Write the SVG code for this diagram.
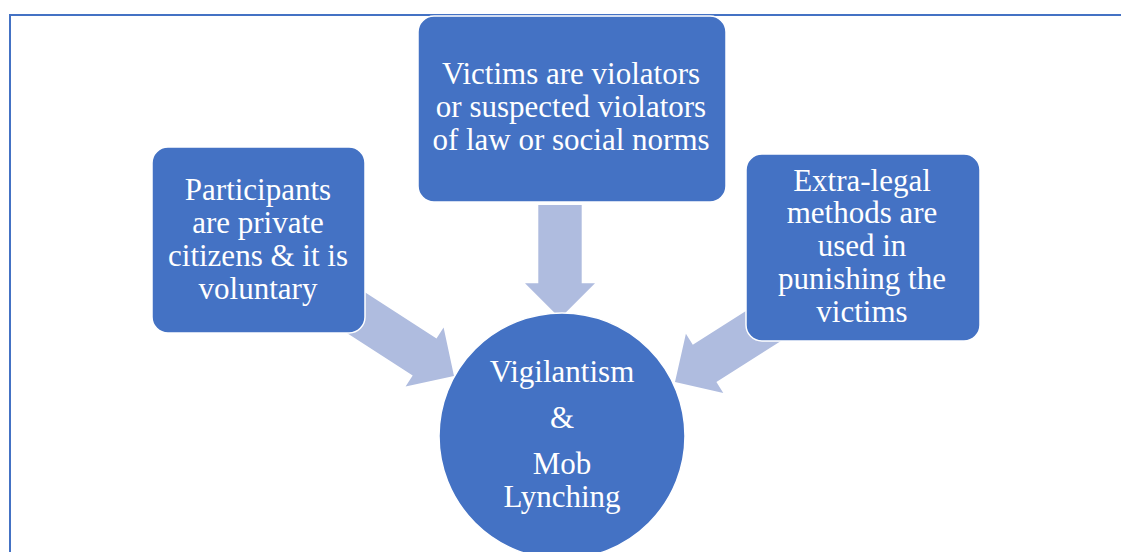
<svg xmlns="http://www.w3.org/2000/svg" width="1121" height="552" viewBox="0 0 1121 552">
  <style>
    .frame { fill: none; stroke: #4472C4; stroke-width: 2; }
    .node { fill: #4472C4; stroke: #FFFFFF; stroke-width: 1.5; }
    .arrow { fill: #AFBCDF; stroke: none; }
    .label { font-family: 'Liberation Serif', Tinos, 'DejaVu Serif', serif; font-size: 31px; fill: #FFFFFF; text-anchor: middle; }
  </style>
  <rect width="1121" height="552" fill="#FFFFFF"/>
  <!-- page frame -->
  <path class="frame" d="M10,552 V15 H1121"/>

  <!-- block arrows pointing into the central circle -->
  <g id="connectors">
    <polygon class="arrow" points="538.3,205 581.7,205 581.7,283.3 595,283.3 560,318.3 525,283.3 538.3,283.3"/>
    <polygon class="arrow" points="318.9,262.5 436.5,338.5 443.6,327.6 454,376 405.6,386.4 412.7,375.5 295,299.5"/>
    <polygon class="arrow" points="811,269.8 692.8,344.7 685.9,333.7 675,382 723.3,392.9 716.4,381.9 834.7,307"/>
  </g>

  <g id="node-participants">
    <rect class="node" x="152" y="147" width="213" height="186" rx="16"/>
    <text class="label" x="258" y="200">Participants</text>
    <text class="label" x="258" y="233">are private</text>
    <text class="label" x="258" y="266">citizens &amp; it is</text>
    <text class="label" x="258" y="299">voluntary</text>
  </g>

  <g id="node-victims">
    <rect class="node" x="418" y="16" width="308" height="186" rx="16"/>
    <text class="label" x="571" y="83.5">Victims are violators</text>
    <text class="label" x="571" y="117">or suspected violators</text>
    <text class="label" x="571" y="150">of law or social norms</text>
  </g>

  <g id="node-methods">
    <rect class="node" x="746" y="154" width="234" height="187" rx="16"/>
    <text class="label" x="862" y="190.5">Extra-legal</text>
    <text class="label" x="862" y="223.3">methods are</text>
    <text class="label" x="862" y="256">used in</text>
    <text class="label" x="862" y="288.8">punishing the</text>
    <text class="label" x="862" y="321.5">victims</text>
  </g>

  <g id="node-vigilantism">
    <circle class="node" cx="562" cy="436" r="123"/>
    <text class="label" x="562" y="382.3">Vigilantism</text>
    <text class="label" x="562" y="427.7">&amp;</text>
    <text class="label" x="562" y="474">Mob</text>
    <text class="label" x="562" y="506.7">Lynching</text>
  </g>
</svg>
